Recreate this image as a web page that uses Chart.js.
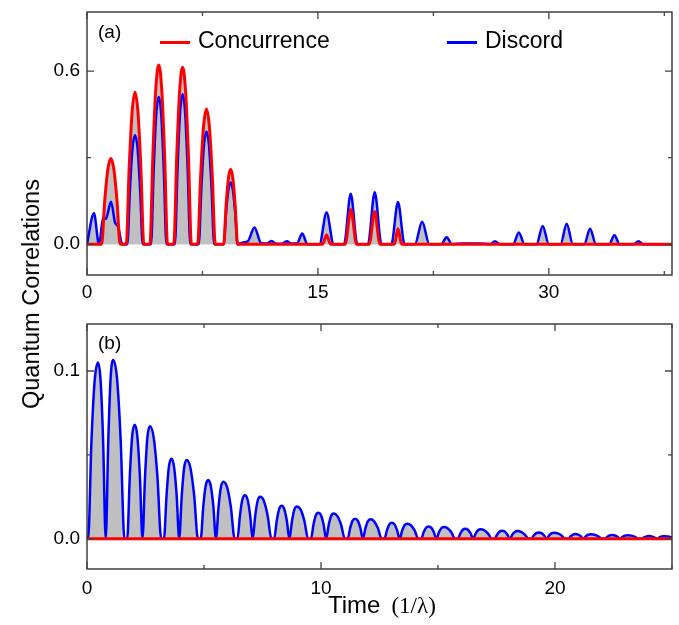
<!DOCTYPE html>
<html>
<head>
<meta charset="utf-8">
<title>Quantum Correlations</title>
<script src="https://cdn.jsdelivr.net/npm/chart.js@4.4.0/dist/chart.umd.min.js"></script>
<style>
  body { margin: 0; background: #fff; }
  #wrap { position: relative; width: 679px; height: 625px; overflow: hidden; }
  canvas { position: absolute; left: 0; }
  #chartA { top: 0; }
  #chartB { top: 305px; }
  .ytitle {
    position: absolute; left: 31px; top: 294px;
    transform: translate(-50%, -50%) rotate(-90deg);
    font: 23.5px "Liberation Sans", Arial, sans-serif; line-height: 24px; white-space: nowrap;
  }
  .xtitle {
    position: absolute; left: 328px; top: 593px;
    font: 24px "Liberation Sans", Arial, sans-serif; line-height: 24px; white-space: nowrap;
  }
  .xtitle .unit { font: 23px "Liberation Serif", "Times New Roman", serif; margin-left: 11px; }
</style>
</head>
<body>
<div id="wrap">
  <canvas id="chartA" width="679" height="305"></canvas>
  <canvas id="chartB" width="679" height="320"></canvas>
  <div class="ytitle">Quantum Correlations</div>
  <div class="xtitle">Time<span class="unit">(1/λ)</span></div>
</div>
<script>
/** Series labels and colours **/
const labels = ["Concurrence", "Discord"];
const lineColors = ["#ff0000", "#0000ff"];
const fillColor = "#c0c0c0";

/** Panel (a) data **/
const timeConcA = [0,
  0.95, 1.15, 1.35, 1.55, 1.75, 1.95, 2.15,
  2.55, 2.74, 2.93, 3.12, 3.31, 3.5, 3.69,
  4.09, 4.28, 4.47, 4.66, 4.85, 5.04, 5.23,
  5.64, 5.83, 6.02, 6.21, 6.4, 6.59, 6.78,
  7.19, 7.38, 7.57, 7.76, 7.95, 8.14, 8.33,
  8.88, 9.03, 9.18, 9.33, 9.48, 9.63, 9.78,
  15.3, 15.56, 15.82, 16.77, 17.14, 17.51, 18.33, 18.68, 19.03, 19.97, 20.2, 20.43, 38];
const concurrenceA = [0,
  0, 0.149, 0.258, 0.297, 0.258, 0.149, 0,
  0, 0.264, 0.458, 0.527, 0.458, 0.264, 0,
  0, 0.31, 0.54, 0.621, 0.54, 0.31, 0,
  0, 0.306, 0.533, 0.613, 0.533, 0.306, 0,
  0, 0.234, 0.408, 0.469, 0.408, 0.234, 0,
  0, 0.13, 0.226, 0.26, 0.226, 0.13, 0,
  0, 0.032, 0, 0, 0.12, 0, 0, 0.113, 0, 0, 0.053, 0, 0];

const timeDiscA = [0, 0.45, 0.78, 1.06, 1.22, 1.56, 1.82, 2.03, 2.29,
  2.62, 2.79, 2.95, 3.12, 3.29, 3.45, 3.62,
  4.16, 4.33, 4.49, 4.66, 4.83, 4.99, 5.16,
  5.71, 5.88, 6.04, 6.21, 6.38, 6.54, 6.71,
  7.26, 7.43, 7.59, 7.76, 7.93, 8.09, 8.26,
  8.88, 9.03, 9.18, 9.33, 9.48, 9.63, 9.78,
  10.15, 10.45, 10.88, 11.3, 11.7, 11.98, 12.3, 12.65, 12.97, 13.3,
  13.65, 13.98, 14.32, 15.1, 15.56, 16.02, 16.7, 17.13, 17.56, 18.25,
  18.69, 19.13, 19.77, 20.2, 20.63, 21.3, 21.77, 22.24, 23.02, 23.36,
  23.7, 24.4, 25.4, 26.2, 26.5, 26.8, 27.68, 28.05, 28.42, 29.2,
  29.6, 30.0, 30.76, 31.16, 31.56, 32.3, 32.68, 33.06, 33.92, 34.26,
  34.6, 35.52, 35.82, 36.12, 38];
const discordA = [0, 0.107, 0, 0.093, 0.087, 0.147, 0.075, 0.06, 0,
  0, 0.189, 0.329, 0.378, 0.329, 0.189, 0,
  0, 0.255, 0.444, 0.51, 0.444, 0.255, 0,
  0, 0.26, 0.452, 0.52, 0.452, 0.26, 0,
  0, 0.195, 0.339, 0.39, 0.339, 0.195, 0,
  0, 0.107, 0.186, 0.214, 0.186, 0.107, 0,
  0.006, 0.01, 0.058, 0.004, 0.002, 0.011, 0.001, 0.001, 0.01, 0.002,
  0.003, 0.037, 0, 0, 0.11, 0, 0, 0.175, 0, 0,
  0.18, 0, 0, 0.146, 0, 0, 0.078, 0, 0, 0.024,
  0, 0.002, 0.002, 0, 0.01, 0, 0, 0.04, 0, 0,
  0.063, 0, 0, 0.071, 0, 0, 0.053, 0, 0, 0.031,
  0, 0, 0.01, 0, 0];

/** Panel (b) data (one row per pair of peaks) **/
const timeConcB = [0, 25];
const concurrenceB = [0, 0];

const timeDiscB = [0,
  0.05, 0.19, 0.33, 0.47, 0.58, 0.69, 0.8, 0.91, 1.01, 1.12, 1.28, 1.44, 1.6,
  1.72, 1.83, 1.93, 2.04, 2.15, 2.26, 2.37, 2.48, 2.58, 2.69, 2.85, 3.01, 3.17,
  3.29, 3.4, 3.5, 3.61, 3.72, 3.83, 3.94, 4.05, 4.15, 4.26, 4.42, 4.58, 4.74,
  4.86, 4.97, 5.07, 5.18, 5.29, 5.4, 5.51, 5.62, 5.72, 5.83, 5.99, 6.15, 6.31,
  6.43, 6.54, 6.64, 6.75, 6.86, 6.97, 7.08, 7.19, 7.29, 7.4, 7.56, 7.72, 7.88,
  8.0, 8.11, 8.21, 8.32, 8.43, 8.54, 8.65, 8.76, 8.86, 8.97, 9.13, 9.29, 9.45,
  9.57, 9.68, 9.78, 9.89, 10.0, 10.11, 10.22, 10.33, 10.43, 10.54, 10.7, 10.86, 11.02,
  11.14, 11.25, 11.35, 11.46, 11.57, 11.68, 11.79, 11.9, 12.0, 12.11, 12.27, 12.43, 12.59,
  12.71, 12.82, 12.92, 13.03, 13.14, 13.25, 13.36, 13.47, 13.57, 13.68, 13.84, 14.0, 14.16,
  14.28, 14.39, 14.49, 14.6, 14.71, 14.82, 14.93, 15.04, 15.14, 15.25, 15.41, 15.57, 15.73,
  15.85, 15.96, 16.06, 16.17, 16.28, 16.39, 16.5, 16.61, 16.71, 16.82, 16.98, 17.14, 17.3,
  17.42, 17.53, 17.63, 17.74, 17.85, 17.96, 18.07, 18.18, 18.28, 18.39, 18.55, 18.71, 18.87,
  18.99, 19.1, 19.2, 19.31, 19.42, 19.53, 19.64, 19.75, 19.85, 19.96, 20.12, 20.28, 20.44,
  20.56, 20.67, 20.77, 20.88, 20.99, 21.1, 21.21, 21.32, 21.42, 21.53, 21.69, 21.85, 22.01,
  22.13, 22.24, 22.34, 22.45, 22.56, 22.67, 22.78, 22.89, 22.99, 23.1, 23.26, 23.42, 23.58,
  23.7, 23.81, 23.91, 24.02, 24.13, 24.24, 24.35, 24.46, 24.56, 24.67, 24.83, 25.0];
const discordB = [0,
  0, 0.058, 0.0945, 0.105, 0.0945, 0.058, 0, 0.0586, 0.096, 0.1066, 0.096, 0.0586, 0,
  0, 0.0374, 0.0612, 0.068, 0.0612, 0.0374, 0, 0.0369, 0.0603, 0.067, 0.0603, 0.0369, 0,
  0, 0.0262, 0.0429, 0.0477, 0.0429, 0.0262, 0, 0.0258, 0.0422, 0.0469, 0.0422, 0.0258, 0,
  0, 0.0193, 0.0315, 0.035, 0.0315, 0.0193, 0, 0.0187, 0.0306, 0.034, 0.0306, 0.0187, 0,
  0, 0.0143, 0.0234, 0.026, 0.0234, 0.0143, 0, 0.0138, 0.0225, 0.025, 0.0225, 0.0138, 0,
  0, 0.0108, 0.0177, 0.0197, 0.0177, 0.0108, 0, 0.0106, 0.0174, 0.0193, 0.0174, 0.0106, 0,
  0, 0.0085, 0.014, 0.0155, 0.014, 0.0085, 0, 0.0083, 0.0135, 0.015, 0.0135, 0.0083, 0,
  0, 0.0066, 0.0108, 0.012, 0.0108, 0.0066, 0, 0.0064, 0.0104, 0.0116, 0.0104, 0.0064, 0,
  0, 0.0052, 0.0086, 0.0095, 0.0086, 0.0052, 0, 0.005, 0.0081, 0.009, 0.0081, 0.005, 0,
  0, 0.004, 0.0066, 0.0073, 0.0066, 0.004, 0, 0.0039, 0.0063, 0.007, 0.0063, 0.0039, 0,
  0, 0.0033, 0.0054, 0.006, 0.0054, 0.0033, 0, 0.0031, 0.0051, 0.0057, 0.0051, 0.0031, 0,
  0, 0.0026, 0.0043, 0.0048, 0.0043, 0.0026, 0, 0.0025, 0.0041, 0.0046, 0.0041, 0.0025, 0,
  0, 0.0021, 0.0034, 0.0038, 0.0034, 0.0021, 0, 0.002, 0.0032, 0.0036, 0.0032, 0.002, 0,
  0, 0.0015, 0.0025, 0.0028, 0.0025, 0.0015, 0, 0.0015, 0.0024, 0.0027, 0.0024, 0.0015, 0,
  0, 0.0012, 0.002, 0.0022, 0.002, 0.0012, 0, 0.0012, 0.0019, 0.0021, 0.0019, 0.0012, 0,
  0, 0.0009, 0.0014, 0.0016, 0.0014, 0.0009, 0, 0.0008, 0.0014, 0.0015, 0.0014, 0.0008];

/** Axis ticks **/
const xTicksA = [0, 15, 30], xMinorA = [7.5, 22.5, 37.5];
const yTicksA = [0, 0.6], yMinorA = [0.3];
const xTicksB = [0, 10, 20], xMinorB = [5, 15, 25];
const yTicksB = [0, 0.1], yMinorB = [0.05];

const fontFamily = '"Liberation Sans", Arial, sans-serif';

//  Turn two arrays into {x, y} points
function toPoints(xs, ys) {
  return xs.map((x, i) => ({ x: x, y: ys[i] }));
}

//  Scale boxes should not add their own label padding to the layout
function noPad(s) {
  s.paddingTop = 0;
  s.paddingBottom = 0;
  s.paddingLeft = 0;
  s.paddingRight = 0;
}

/** Plugin: box frame, inward ticks, panel label and legend **/
const framePlugin = {
  id: "frame",
  afterDraw(chart, args, opts) {
    const { ctx, chartArea: a, scales } = chart;
    ctx.save();
    ctx.strokeStyle = "#222";
    ctx.lineWidth = 1.3;
    ctx.strokeRect(a.left, a.top, a.right - a.left, a.bottom - a.top);

    ctx.strokeStyle = "#444";
    const xMarks = (vals, len) => vals.forEach((v) => {
      const px = scales.x.getPixelForValue(v);
      ctx.beginPath();
      ctx.moveTo(px, a.bottom); ctx.lineTo(px, a.bottom - len);
      ctx.moveTo(px, a.top); ctx.lineTo(px, a.top + len);
      ctx.stroke();
    });
    const yMarks = (vals, len) => vals.forEach((v) => {
      const py = scales.y.getPixelForValue(v);
      ctx.beginPath();
      ctx.moveTo(a.left, py); ctx.lineTo(a.left + len, py);
      ctx.moveTo(a.right, py); ctx.lineTo(a.right - len, py);
      ctx.stroke();
    });
    xMarks(opts.xMajor, 7);
    xMarks(opts.xMinor, 4);
    yMarks(opts.yMajor, 7);
    yMarks(opts.yMinor, 4);

    //  Panel label
    ctx.fillStyle = "#000";
    ctx.font = "19px " + fontFamily;
    ctx.textBaseline = "alphabetic";
    ctx.fillText(opts.panel, a.left + 11, a.top + opts.panelDy);

    //  Legend (panel a only)
    if (opts.legend) {
      ctx.font = "23px " + fontFamily;
      chart.data.datasets.forEach((ds, i) => {
        const lx = opts.legendX[i];
        ctx.strokeStyle = ds.borderColor;
        ctx.lineWidth = 3;
        ctx.beginPath();
        ctx.moveTo(lx, 42.5); ctx.lineTo(lx + 30, 42.5);
        ctx.stroke();
        ctx.fillStyle = "#000";
        ctx.fillText(ds.label, lx + 38, 48);
      });
    }
    ctx.restore();
  },
};

//  Build one panel
function makePanel(id, conc, disc, xr, yr, xTicks, yTicks, frameOpts, pad, xHeight, xPad) {
  return new Chart(document.getElementById(id), {
    type: "line",
    data: {
      datasets: [
        {
          label: labels[0], data: conc, borderColor: lineColors[0], borderWidth: 3,
          backgroundColor: fillColor, fill: "origin",
        },
        {
          label: labels[1], data: disc, borderColor: lineColors[1], borderWidth: 2.5,
          backgroundColor: fillColor, fill: "origin",
        },
      ],
    },
    options: {
      responsive: false,
      devicePixelRatio: 1,
      animation: false,
      events: [],
      elements: {
        point: { radius: 0 },
        line: { cubicInterpolationMode: "monotone" },
      },
      layout: { padding: { top: pad, right: 7, left: 0, bottom: 0 } },
      plugins: {
        legend: { display: false },
        tooltip: { enabled: false },
        filler: { drawTime: "beforeDatasetsDraw" },
        frame: frameOpts,
      },
      scales: {
        x: {
          type: "linear", min: xr[0], max: xr[1],
          afterBuildTicks: (s) => { s.ticks = xTicks.map((v) => ({ value: v })); },
          afterFit: (s) => { s.height = xHeight; noPad(s); },
          grid: { display: false, drawTicks: false },
          border: { display: false },
          ticks: {
            font: { family: fontFamily, size: 19 }, color: "#000", padding: xPad,
            maxRotation: 0, autoSkip: false, callback: (v) => String(v),
          },
        },
        y: {
          type: "linear", min: yr[0], max: yr[1],
          afterBuildTicks: (s) => { s.ticks = yTicks.map((v) => ({ value: v })); },
          afterFit: (s) => { s.width = 87; noPad(s); },
          grid: { display: false, drawTicks: false },
          border: { display: false },
          ticks: {
            font: { family: fontFamily, size: 19 }, color: "#000", padding: 7,
            callback: (v) => v.toFixed(1),
          },
        },
      },
    },
    plugins: [framePlugin],
  });
}

makePanel("chartA",
  toPoints(timeConcA, concurrenceA), toPoints(timeDiscA, discordA),
  [0, 38], [-0.107, 0.805], xTicksA, yTicksA,
  { xMajor: xTicksA, xMinor: xMinorA, yMajor: yTicksA, yMinor: yMinorA,
    panel: "(a)", panelDy: 26, legend: true, legendX: [160, 447] },
  12, 30, 6);

makePanel("chartB",
  toPoints(timeConcB, concurrenceB), toPoints(timeDiscB, discordB),
  [0, 25], [-0.018, 0.128], xTicksB, yTicksB,
  { xMajor: xTicksB, xMinor: xMinorB, yMajor: yTicksB, yMinor: yMinorB,
    panel: "(b)", panelDy: 25, legend: false },
  19, 56, 8);
</script>
</body>
</html>
